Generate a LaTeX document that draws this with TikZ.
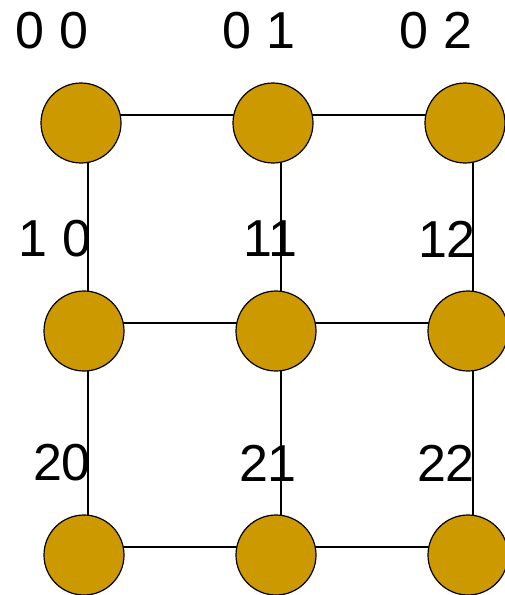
\documentclass[tikz,border=0pt]{standalone}
\usepackage{fontspec}
\setmainfont{Liberation Sans}
\usepackage{xcolor}
\usetikzlibrary{positioning, backgrounds}
\definecolor{sitegold}{RGB}{204,153,0}

\begin{document}
\begin{tikzpicture}[x=1pt, y=-1pt,
  site/.style={circle, draw, fill=sitegold, line width=1.2pt, minimum size=80pt, inner sep=0pt},
  lbl/.style={font=\fontsize{52}{52}\selectfont, inner sep=0pt}]
\useasboundingbox (0,0) rectangle (504,595);

\node [site] (n00) at (81,123) {};
\node [site] (n01) at (273,123) {};
\node [site] (n02) at (465,123) {};
\node [site] (n10) at (84,331) {};
\node [site] (n11) at (276,331) {};
\node [site] (n12) at (468,331) {};
\node [site] (n20) at (84,555) {};
\node [site] (n21) at (276,555) {};
\node [site] (n22) at (468,555) {};

\node [lbl] (l00) at (52,31) {0 0};
\node [lbl] (l01) at (259,31) {0 1};
\node [lbl] (l02) at (436,31) {0 2};
\node [lbl] (l10) at (55,239) {1 0};
\node [lbl] (l11) at (270,239) {11};
\node [lbl] (l12) at (447,239) {12};
\node [lbl] (l20) at (62,463) {20};
\node [lbl] (l21) at (268,463) {21};
\node [lbl] (l22) at (446,463) {22};

\begin{scope}[on background layer]
% rows
\draw [line width=1.5pt] ([yshift=8pt]n00.center) -- ([yshift=8pt]n01.center);
\draw [line width=1.5pt] ([yshift=8pt]n01.center) -- ([yshift=8pt]n02.center);
\draw [line width=1.5pt] ([yshift=8pt]n10.center) -- ([yshift=8pt]n11.center);
\draw [line width=1.5pt] ([yshift=8pt]n11.center) -- ([yshift=8pt]n12.center);
\draw [line width=1.5pt] ([yshift=8pt]n20.center) -- ([yshift=8pt]n21.center);
\draw [line width=1.5pt] ([yshift=8pt]n21.center) -- ([yshift=8pt]n22.center);
% columns
\draw [line width=1.5pt] ([xshift=7pt]n00.center) -- ([xshift=4pt]n10.center) -- ([xshift=4pt]n20.center);
\draw [line width=1.5pt] ([xshift=8pt]n01.center) -- ([xshift=5pt]n11.center) -- ([xshift=5pt]n21.center);
\draw [line width=1.5pt] ([xshift=8pt]n02.center) -- ([xshift=5pt]n12.center) -- ([xshift=5pt]n22.center);
\end{scope}
\end{tikzpicture}
\end{document}
